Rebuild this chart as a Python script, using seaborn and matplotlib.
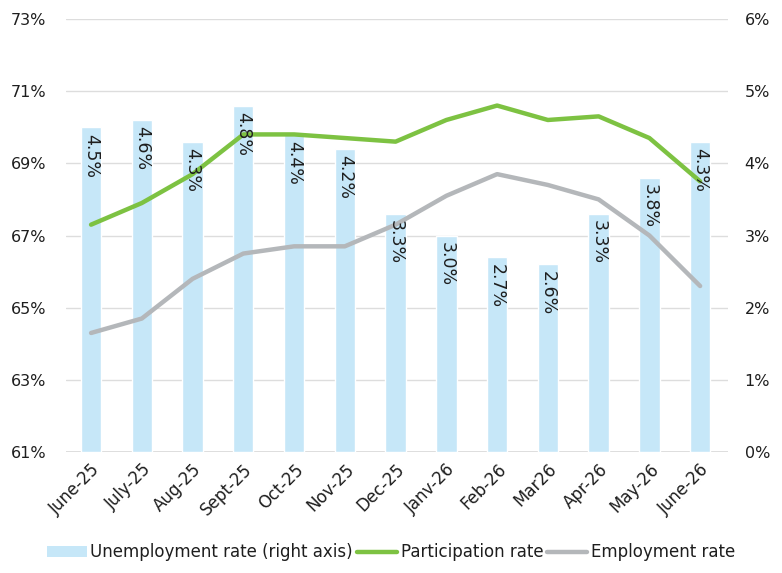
import matplotlib
matplotlib.use("Agg")
import matplotlib.pyplot as plt
import seaborn as sns
import pandas as pd
from matplotlib.patches import Patch
from matplotlib.lines import Line2D

months = ["June-25", "July-25", "Aug-25", "Sept-25", "Oct-25", "Nov-25", "Dec-25",
          "Janv-26", "Feb-26", "Mar26", "Apr-26", "May-26", "June-26"]
unemployment = [4.5, 4.6, 4.3, 4.8, 4.4, 4.2, 3.3, 3.0, 2.7, 2.6, 3.3, 3.8, 4.3]
participation = [67.3, 67.9, 68.7, 69.8, 69.8, 69.7, 69.6, 70.2, 70.6, 70.2, 70.3, 69.7, 68.5]
employment = [64.3, 64.7, 65.8, 66.5, 66.7, 66.7, 67.3, 68.1, 68.7, 68.4, 68.0, 67.0, 65.6]

BAR = "#C6E7F8"
GREEN = "#7DC242"
GREY = "#B4B7BA"
TXT = "#1E1E1E"
FS = 11.5

sns.set_theme(style="white")
plt.rcParams["font.family"] = ["DejaVu Sans"]
plt.rcParams["text.color"] = TXT
plt.rcParams["xtick.color"] = TXT
plt.rcParams["ytick.color"] = TXT

df = pd.DataFrame({"month": months, "unemp": unemployment,
                   "part": participation, "emp": employment})
df["x"] = range(len(df))

fig = plt.figure(figsize=(7.82, 5.73), dpi=100)
ax2 = fig.add_axes([0.084, 0.211, 0.847, 0.756])  # bars, right axis
ax = ax2.twinx()
ax.yaxis.tick_left()
ax2.yaxis.tick_right()
ax.set_zorder(ax2.get_zorder() + 1)
ax.patch.set_visible(False)

sns.barplot(data=df, x="month", y="unemp", color=BAR, width=0.4,
            saturation=1, ax=ax2, zorder=2)
ax2.set_ylim(0, 6)
ax2.set_yticks(range(0, 7))
ax2.set_yticklabels([f"{v}%" for v in range(0, 7)], fontsize=FS)
ax2.yaxis.grid(True, color="#DDDDDD", linewidth=1, zorder=0)
ax2.set_axisbelow(True)

sns.lineplot(data=df, x="x", y="part", color=GREEN, linewidth=3.2, ax=ax)
sns.lineplot(data=df, x="x", y="emp", color=GREY, linewidth=3.2, ax=ax)
ax.set_ylim(61, 73)
ax.set_yticks(range(61, 74, 2))
ax.set_yticklabels([f"{v}%" for v in range(61, 74, 2)], fontsize=FS)
ax.set_xlim(-0.5, 12.55)
ax2.set_xlim(-0.5, 12.55)

# rotated value labels just inside the top of each bar
for i, v in enumerate(unemployment):
    ax.text(i, v - 0.09, f"{v:.1f}%", transform=ax2.transData, rotation=270,
            ha="center", va="top", fontsize=12.5, color=TXT, zorder=5)

ax2.set_xticks(range(len(months)))
ax2.set_xticklabels(months, rotation=45, ha="right", rotation_mode="anchor", fontsize=12)
ax2.tick_params(axis="x", length=0, pad=6)
ax2.tick_params(axis="y", length=0, pad=12)
ax.tick_params(axis="y", length=0, pad=14)
ax.set_xlabel("")
ax.set_ylabel("")
ax2.set_xlabel("")
ax2.set_ylabel("")
for a in (ax, ax2):
    for s in a.spines.values():
        s.set_visible(False)
ax2.axhline(0, color="#D9D9D9", linewidth=1.2, zorder=1)

handles = [Patch(facecolor=BAR, edgecolor="none"),
           Line2D([0], [0], color=GREEN, linewidth=3.2),
           Line2D([0], [0], color=GREY, linewidth=3.2)]
labels = ["Unemployment rate (right axis)", "Participation rate", "Employment rate"]
fig.legend(handles, labels, loc="center", bbox_to_anchor=(0.5, 0.036), ncol=3,
           frameon=False, fontsize=12, handlelength=2.4, handletextpad=0.2,
           columnspacing=0.25, handleheight=0.6)

fig.savefig("out.png", dpi=100)
